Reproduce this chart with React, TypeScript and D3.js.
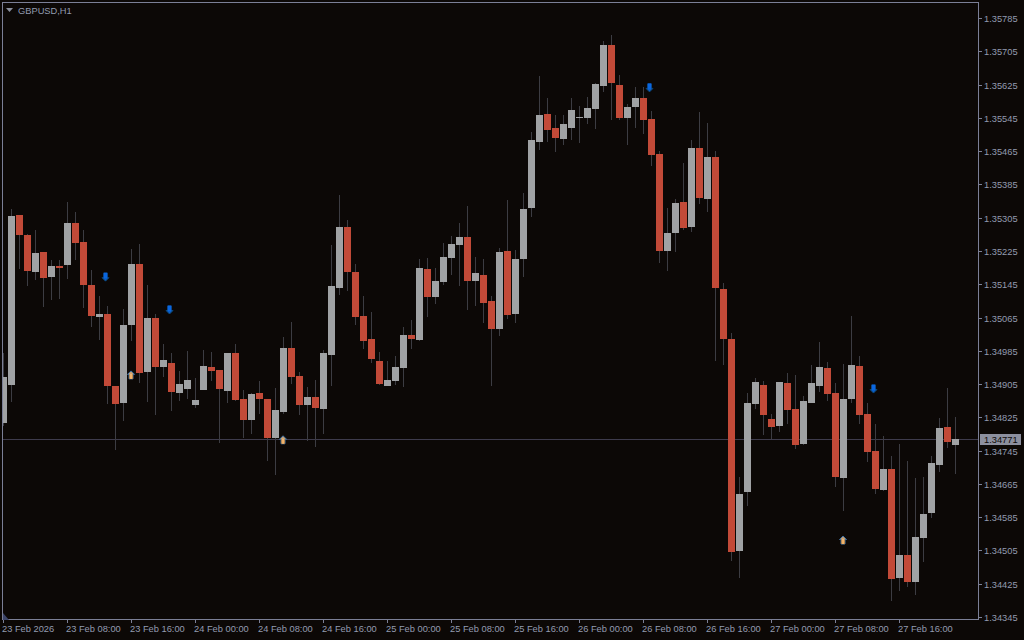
import React from "react";
import * as d3 from "d3";

const W = 1024;
const H = 640;

// Prices in points (1e-5)
const highs = [
  134980,135326,135311,135266,135275,135223,135203,135203,135343,135319,135275,135179,135117,135093,134900,135086,135230,135242,135143,135073,
  135001,134980,134936,134985,134920,134987,134982,134939,134980,135001,134891,134884,134912,134869,134896,135018,135054,134934,134898,134915,
  134987,135239,135359,135299,135194,135117,135078,134982,134960,134972,135042,135059,135206,135208,135184,135244,135261,135292,135333,135210,
  135206,135117,135232,135347,135227,135364,135511,135646,135593,135552,135552,135593,135574,135595,135629,135730,135744,135648,135578,135619,
  135619,135561,135465,135328,135350,135436,135492,135559,135533,135465,135148,135028,134682,134884,134920,134912,134833,134910,134932,134927,
  134876,134951,135006,134958,134908,134953,135069,134972,134860,134809,134780,134732,134761,134720,134679,134682,134732,134823,134896,134826,
];
const opens = [
  134811,134903,135311,135263,135174,135223,135162,135189,135191,135292,135247,135143,135066,135073,134900,134860,135047,135194,134934,135064,
  134946,134956,134884,134893,134855,134891,134946,134939,134888,134980,134869,134819,134884,134869,134775,134838,134992,134924,134855,134874,
  134845,134975,135136,135283,135174,135069,135013,134960,134900,134912,134944,135023,135011,135182,135114,135150,135208,135239,135259,135153,
  135167,135105,135037,135225,135073,135206,135328,135487,135554,135521,135494,135521,135545,135545,135566,135622,135720,135624,135545,135571,
  135593,135542,135458,135225,135268,135343,135283,135472,135350,135451,135134,135013,134504,134646,134857,134903,134821,134804,134908,134845,
  134761,134860,134900,134944,134884,134679,134869,134948,134833,134744,134650,134701,134439,134494,134429,134535,134595,134710,134802,134758,
];
const closes = [
  134922,135309,135263,135177,135220,135160,135189,135184,135292,135244,135143,135069,135073,134900,134857,135047,135194,134932,135064,134946,
  134963,134886,134905,134915,134867,134948,134936,134893,134980,134867,134819,134881,134869,134775,134843,134992,134922,134855,134874,134848,
  134980,135141,135283,135174,135066,135009,134965,134905,134915,134946,135023,135013,135184,135114,135153,135210,135242,135259,135153,135172,
  135100,135037,135223,135071,135206,135326,135492,135552,135516,135497,135530,135564,135547,135569,135626,135720,135629,135545,135571,135593,
  135540,135456,135225,135268,135340,135280,135472,135352,135451,135136,135013,134501,134641,134860,134910,134831,134802,134910,134843,134758,
  134864,134908,134946,134881,134682,134869,134951,134831,134742,134653,134701,134436,134494,134429,134537,134593,134715,134799,134766,134773,
];
const lows = [
  134804,134862,135182,135141,135155,135090,135107,135110,135158,135203,135088,135042,135011,134857,134747,134816,135009,134908,134862,134831,
  134922,134840,134864,134869,134848,134891,134912,134763,134860,134864,134775,134785,134833,134720,134686,134833,134905,134831,134768,134754,
  134785,134900,135119,135129,135047,134989,134956,134903,134900,134903,134898,134989,135009,135066,135097,135143,135167,135141,135083,135093,
  135052,134900,135021,135061,135052,135162,135307,135468,135487,135463,135480,135492,135485,135530,135518,135607,135540,135540,135480,135521,
  135506,135429,135196,135177,135223,135275,135271,135338,135319,134960,134951,134480,134439,134612,134845,134783,134773,134790,134809,134749,
  134758,134860,134886,134864,134658,134600,134860,134809,134718,134641,134648,134383,134407,134417,134398,134477,134583,134694,134751,134689,
];
const priceTicks = [135785,135705,135625,135545,135465,135385,135305,135225,135145,135065,134985,134905,134825,134745,134665,134585,134505,134425,134345];
const timeLabels = ["23 Feb 2026","23 Feb 08:00","23 Feb 16:00","24 Feb 00:00","24 Feb 08:00","24 Feb 16:00","25 Feb 00:00","25 Feb 08:00","25 Feb 16:00","26 Feb 00:00","26 Feb 08:00","26 Feb 16:00","27 Feb 00:00","27 Feb 08:00","27 Feb 16:00"];
const timeTickBars = [0,8,16,24,32,40,48,56,64,72,80,88,96,104,112];
const lastPrice = 134771;
const downBars = [12.75, 20.75, 80.75, 108.75];
const downPrices = [135162, 135083, 135617, 134893];
const upBars = [15.94, 34.94, 104.94];
const upPrices = [134927, 134771, 134530];
const symbolLabel = "GBPUSD,H1";

const BG = "#0c0806";
const RED = "#c24a38";
const GREY = "#a0a2a4";
const WICK = "#3c3c42";
const FRAME = "#7b7f96";
const HLINE = "#3e3b4c";
const TEXT = "#939bb0";
const FONT = "'Liberation Sans', sans-serif";

const x = d3.scaleLinear().domain([0, 1]).range([3.5, 11.5]);
const y = d3.scaleLinear().domain([135785, 134345]).range([18, 617]);
const row = (p: number) => Math.round(y(p));

function DownArrow({ cx, cy }: { cx: number; cy: number }) {
  const d = d3.line()([[cx - 1.5, cy - 4], [cx + 1.5, cy - 4], [cx + 1.5, cy + 0.5], [cx + 3.5, cy + 0.5], [cx, cy + 4], [cx - 3.5, cy + 0.5], [cx - 1.5, cy + 0.5]]) + "Z";
  return (
    <g>
      <path d={d} fill="#0a5ec8" stroke="#0d4470" strokeWidth={1} />
      <rect x={cx - 2} y={cy - 4.5} width={4} height={5.5} fill="#0a66e0" />
    </g>
  );
}

function UpArrow({ cx, cy }: { cx: number; cy: number }) {
  const d = d3.line()([[cx, cy - 4], [cx + 3.5, cy - 0.5], [cx + 2, cy - 0.5], [cx + 2, cy + 4], [cx - 2, cy + 4], [cx - 2, cy - 0.5], [cx - 3.5, cy - 0.5]]) + "Z";
  return (
    <g>
      <path d={d} fill="#c8a070" stroke="#3f72a6" strokeWidth={1} />
      <rect x={cx - 1.5} y={cy - 0.5} width={3} height={4.5} fill="#ee8c1e" />
      <rect x={cx - 0.5} y={cy - 1} width={1} height={5} fill="#f2d8b8" />
    </g>
  );
}

export default function App() {
  return (
    <svg
      width={W}
      height={H}
      viewBox={`0 0 ${W} ${H}`}
      style={{ position: "fixed", left: 0, top: 0, display: "block", background: BG }}
    >
      <defs>
        <clipPath id="plot">
          <rect x={3} y={3} width={975} height={617} />
        </clipPath>
      </defs>
      <rect width={W} height={H} fill={BG} />

      <g clipPath="url(#plot)">
        <line x1={3} x2={978} y1={439.5} y2={439.5} stroke={HLINE} />
        {opens.map((o, i) => {
          const c = closes[i];
          const xc = x(i);
          const top = row(Math.max(o, c));
          const bot = row(Math.min(o, c));
          return (
            <g key={i}>
              <line x1={xc} x2={xc} y1={row(highs[i])} y2={row(lows[i])} stroke={WICK} />
              <rect x={xc - 3.5} y={top} width={7} height={Math.max(1, bot - top)} fill={c < o ? RED : GREY} />
            </g>
          );
        })}
        {downBars.map((b, i) => (
          <DownArrow key={i} cx={x(b)} cy={y(downPrices[i])} />
        ))}
        {upBars.map((b, i) => (
          <UpArrow key={i} cx={x(b)} cy={y(upPrices[i])} />
        ))}
      </g>

      {/* Frame */}
      <rect x={2.5} y={2.5} width={976} height={617} fill="none" stroke={FRAME} />
      <path d="M3 613L3 620L9 620Z" fill="#3c4468" />

      {/* Symbol label */}
      <path d="M6 8L13 8L9.5 12Z" fill="#8a8f9c" />
      <text x={18} y={13.5} fontFamily={FONT} fontSize={9.3} fill={TEXT}>{symbolLabel}</text>

      {/* Price axis */}
      {priceTicks.map((p) => (
        <g key={p}>
          <line x1={979} x2={982} y1={row(p) + 0.5} y2={row(p) + 0.5} stroke={FRAME} />
          <text x={984} y={row(p) + 3.5} fontFamily={FONT} fontSize={9.3} fill={TEXT}>{(p / 1e5).toFixed(5)}</text>
        </g>
      ))}

      {/* Time axis */}
      {timeTickBars.map((b, i) => (
        <g key={b}>
          <line x1={x(b)} x2={x(b)} y1={620} y2={623} stroke={FRAME} />
          <text x={x(b) - 1.5} y={632} fontFamily={FONT} fontSize={9.3} fill={TEXT}>{timeLabels[i]}</text>
        </g>
      ))}

      {/* Last price */}
      <rect x={980} y={434} width={41} height={11} fill="#8c8f9e" />
      <text x={984} y={443} fontFamily={FONT} fontSize={9.3} fill="#0c0806">{(lastPrice / 1e5).toFixed(5)}</text>
    </svg>
  );
}
